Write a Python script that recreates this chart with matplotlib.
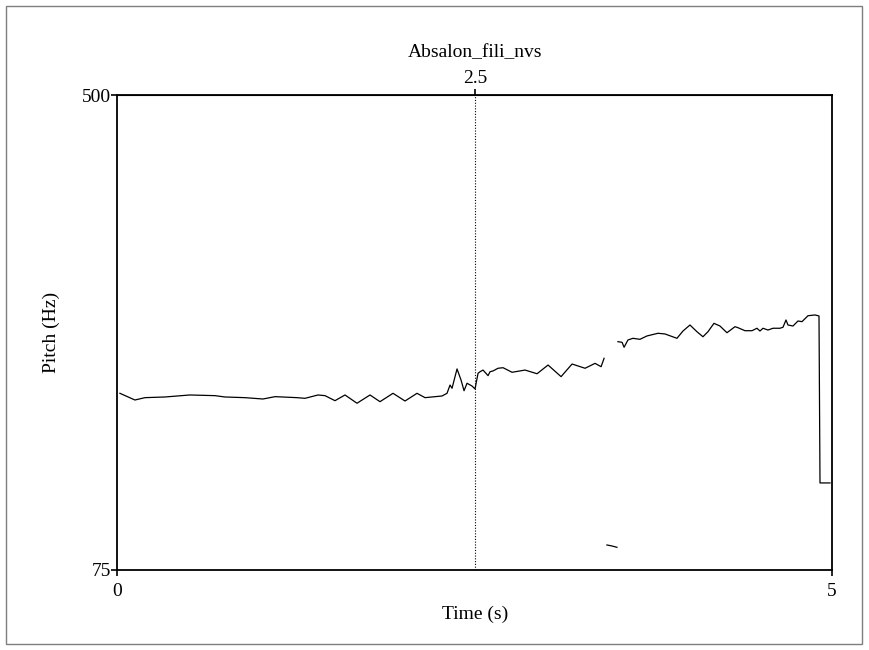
import matplotlib
matplotlib.use("Agg")
import matplotlib.pyplot as plt
from matplotlib.patches import Rectangle

plt.rcParams['font.family'] = ['Liberation Serif', 'DejaVu Serif']

title = 'Absalon_fili_nvs'
cursor_time = 2.5
t_min, t_max = 0, 5
f_min, f_max = 75, 500

# voiced stretch 1
t1 = [0.017, 0.122, 0.192, 0.332, 0.507, 0.682, 0.752, 0.892, 1.018, 1.103,
      1.256, 1.312, 1.403, 1.452, 1.522, 1.592, 1.676, 1.767, 1.837, 1.928,
      2.012, 2.096, 2.152, 2.271, 2.306, 2.327, 2.341, 2.376, 2.404, 2.425,
      2.446, 2.481, 2.502, 2.523, 2.537, 2.558, 2.593, 2.607, 2.628, 2.663,
      2.698, 2.761, 2.852, 2.936, 3.013, 3.104, 3.181, 3.272, 3.342, 3.384,
      3.405]
f1 = [233.1, 227.1, 229.2, 229.8, 231.6, 231.0, 229.8, 229.2, 228.0, 230.1,
      229.2, 228.6, 231.6, 231.0, 226.5, 231.6, 224.2, 231.6, 225.6, 233.1,
      226.2, 233.1, 229.2, 230.7, 233.1, 240.5, 237.6, 254.9, 245.0, 235.4,
      242.1, 239.6, 237.0, 251.0, 252.4, 253.9, 248.9, 252.4, 253.1, 255.5,
      256.0, 251.9, 253.9, 250.6, 258.4, 248.0, 259.3, 255.5, 259.9, 256.9,
      264.4]

# short low blip
t2 = [3.425, 3.460, 3.495]
f2 = [97.4, 96.5, 95.3]

# voiced stretch 2
t3 = [3.502, 3.531, 3.545, 3.572, 3.607, 3.656, 3.705, 3.782, 3.831, 3.915,
      3.957, 4.006, 4.055, 4.097, 4.132, 4.174, 4.216, 4.265, 4.321, 4.342,
      4.391, 4.440, 4.475, 4.496, 4.517, 4.552, 4.587, 4.636, 4.657, 4.678,
      4.692, 4.727, 4.762, 4.790, 4.832, 4.881, 4.909, 4.916, 4.951, 4.986]
f3 = [279.3, 278.7, 274.3, 280.8, 282.3, 281.4, 284.4, 286.8, 286.2, 282.3,
      288.8, 294.2, 288.2, 283.7, 288.2, 295.7, 293.3, 287.3, 292.7, 291.8,
      289.1, 289.1, 291.3, 288.8, 291.3, 289.7, 291.3, 291.3, 292.2, 298.7,
      294.2, 293.3, 297.8, 297.2, 302.5, 303.2, 302.3, 152.9, 152.9, 152.9]

W, H = 869, 650
fig = plt.figure(figsize=(W / 100, H / 100), dpi=100)
fig.patches.append(Rectangle((6 / W, 6 / H), (862 - 6) / W, (644 - 6) / H,
                             transform=fig.transFigure, fill=False,
                             edgecolor='#7f7f7f', lw=1))

ax = fig.add_axes([117.5 / W, 1 - 570 / H, (832 - 117.5) / W, (570 - 95) / H])
for t, f in [(t1, f1), (t2, f2), (t3, f3)]:
    ax.plot(t, f, color='black', lw=0.9)
ax.axvline(cursor_time, color='black', lw=0.8, ls=(0, (1, 1.5)))

ax.set_xlim(t_min, t_max)
ax.set_ylim(f_min, f_max)
ax.set_xticks([t_min, t_max])
ax.set_xticklabels(['0', '5'])
ax.set_yticks([f_min, f_max])
ax.set_yticklabels(['75', '500'])
ax.tick_params(direction='out', length=4, width=1.2, labelsize=14)
ax.tick_params(axis='x', pad=5.5)
ax.tick_params(axis='y', pad=0.5)
for s in ax.spines.values():
    s.set_linewidth(1.3)

top = ax.secondary_xaxis('top')
top.set_xticks([cursor_time])
top.set_xticklabels(['2.5'])
top.tick_params(direction='out', length=4, width=1.2, pad=2, labelsize=14)

ax.set_xlabel('Time (s)', fontsize=14, labelpad=4)
ax.set_ylabel('Pitch (Hz)', fontsize=14, labelpad=16)
ax.set_title(title, fontsize=14, pad=27)

fig.savefig('out.png', dpi=100)
